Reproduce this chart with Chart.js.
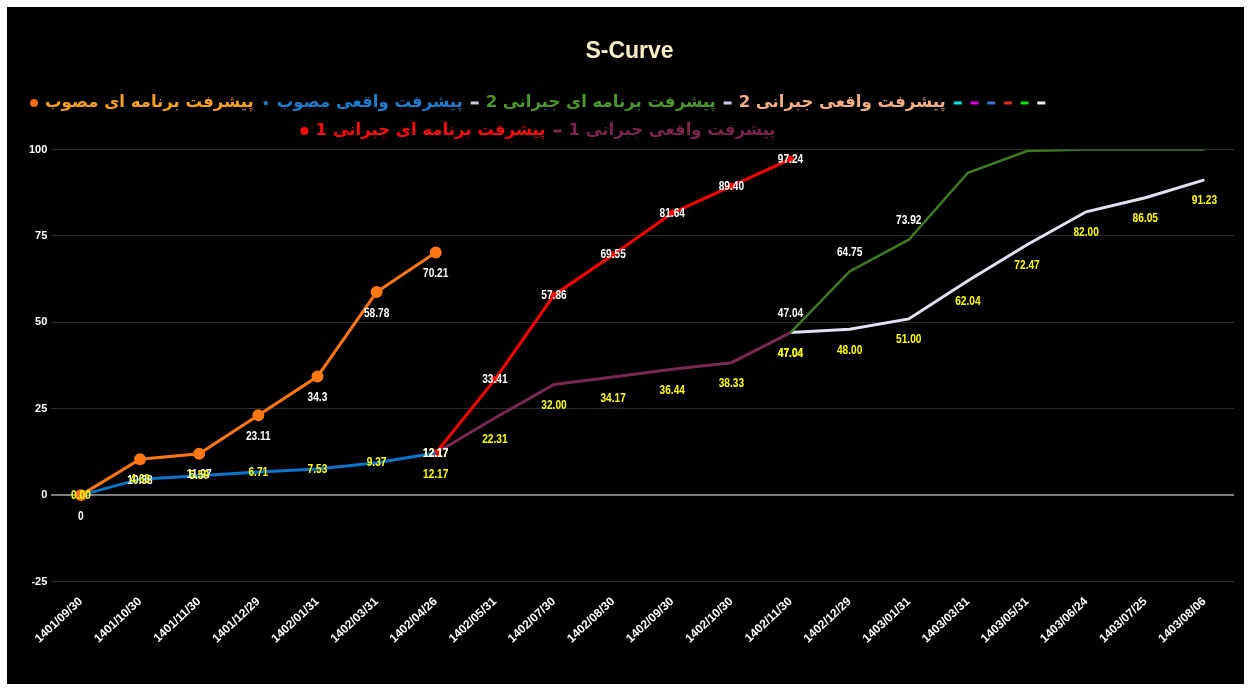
<!DOCTYPE html>
<html>
<head>
<meta charset="utf-8">
<title>S-Curve</title>
<script src="https://cdn.jsdelivr.net/npm/chart.js@4.4.2/dist/chart.umd.js"></script>
<style>
html, body {
    margin: 0;
    padding: 0;
    background: #fff;
}
#wrap {
    position: absolute;
    left: 7px;
    top: 7px;
    width: 1237px;
    height: 677px;
    background: #000;
}
</style>
</head>
<body>
<div id="wrap"><canvas id="chart"></canvas></div>
<script>
const dates = [
    "1401/09/30", "1401/10/30", "1401/11/30", "1401/12/29", "1402/01/31",
    "1402/03/31", "1402/04/26", "1402/05/31", "1402/07/30", "1402/08/30",
    "1402/09/30", "1402/10/30", "1402/11/30", "1402/12/29", "1403/01/31",
    "1403/03/31", "1403/05/31", "1403/06/24", "1403/07/25", "1403/08/06"
];
const _ = null;
// برنامه ای مصوب / واقعی مصوب
const plannedApproved = [0, 10.38, 11.97, 23.11, 34.3, 58.78, 70.21, _, _, _, _, _, _, _, _, _, _, _, _, _];
const actualApproved  = [0.00, 4.63, 5.59, 6.71, 7.53, 9.37, 12.17, _, _, _, _, _, _, _, _, _, _, _, _, _];
// جبرانی 1
const plannedComp1 = [_, _, _, _, _, _, 12.17, 33.41, 57.86, 69.55, 81.64, 89.40, 97.24, _, _, _, _, _, _, _];
const actualComp1  = [_, _, _, _, _, _, 12.17, 22.31, 32.00, 34.17, 36.44, 38.33, 47.04, _, _, _, _, _, _, _];
// جبرانی 2
const plannedComp2 = [_, _, _, _, _, _, _, _, _, _, _, _, 47.04, 64.75, 73.92, 93.3, 99.6, 100, 100, 100];
const actualComp2  = [_, _, _, _, _, _, _, _, _, _, _, _, 47.04, 48.00, 51.00, 62.04, 72.47, 82.00, 86.05, 91.23];

// legend rows, drawn left to right like the original
const legendRows = [
    [
        {text: "پیشرفت برنامه ای مصوب", color: "#f6a01e", marker: "circle", markerColor: "#f46a0e"},
        {text: "پیشرفت واقعی مصوب", color: "#1f7ccc", marker: "star", markerColor: "#2a7fd0"},
        {text: "پیشرفت برنامه ای جبرانی 2", color: "#4a972c", marker: "dash", markerColor: "#c9cbe0"},
        {text: "پیشرفت واقعی جبرانی 2", color: "#f2b082", marker: "dash", markerColor: "#c9cbe0"},
        {text: "", marker: "dash", markerColor: "#00e5e5"},
        {text: "", marker: "dash", markerColor: "#e000e0"},
        {text: "", marker: "dash", markerColor: "#3a78d0"},
        {text: "", marker: "dash", markerColor: "#e03020"},
        {text: "", marker: "dash", markerColor: "#10e010"},
        {text: "", marker: "dash", markerColor: "#f0f0f0"}
    ],
    [
        {text: "پیشرفت برنامه ای جبرانی 1", color: "#ff0a0a", marker: "circle", markerColor: "#ff0a0a"},
        {text: "پیشرفت واقعی جبرانی 1", color: "#7a2450", marker: "dash", markerColor: "#7a2450"}
    ]
];

const legendPlugin = {
    id: "sLegend",
    afterDraw(chart) {
        const ctx = chart.ctx;
        const centerX = 535;
        const rowY = [96, 124];
        ctx.save();
        ctx.font = "bold 16.5px 'DejaVu Sans'";
        ctx.direction = "rtl";
        ctx.textAlign = "left";
        ctx.textBaseline = "middle";
        legendRows.forEach((row, r) => {
            // measure whole row first so it can be centred
            const widths = row.map(it => it.text ? 15 + ctx.measureText(it.text).width + 8 : 16.7);
            let x = centerX - widths.reduce((a, b) => a + b, 0) / 2;
            const y = rowY[r];
            row.forEach((it, i) => {
                const mx = x + 4;
                ctx.fillStyle = it.markerColor;
                if (it.marker === "circle") {
                    ctx.beginPath();
                    ctx.arc(mx, y, 4, 0, Math.PI * 2);
                    ctx.fill();
                } else if (it.marker === "star") {
                    ctx.beginPath();
                    for (let k = 0; k < 10; k++) {
                        const a = -Math.PI / 2 + k * Math.PI / 5;
                        const rr = k % 2 ? 1.4 : 3.5;
                        ctx.lineTo(mx + rr * Math.cos(a), y + rr * Math.sin(a));
                    }
                    ctx.closePath();
                    ctx.fill();
                } else {
                    ctx.fillRect(mx - 4, y - 1.5, 8, 3);
                }
                if (it.text) {
                    ctx.fillStyle = it.color;
                    ctx.fillText(it.text, x + 15, y);
                }
                x += widths[i];
            });
        });
        ctx.restore();
    }
};

// value labels next to each point (narrow bold look)
const valueLabelPlugin = {
    id: "valueLabels",
    afterDatasetsDraw(chart) {
        const ctx = chart.ctx;
        chart.data.datasets.forEach((ds, i) => {
            const meta = chart.getDatasetMeta(i);
            let n = 0;
            meta.data.forEach((pt, j) => {
                const v = ds.data[j];
                if (v === null) return;
                n++;
                if (ds.labelMax && n > ds.labelMax) return;
                const text = ds.rawLabel ? String(v) : v.toFixed(2);
                ctx.save();
                ctx.font = "bold 13px 'Liberation Sans'";
                ctx.textAlign = "center";
                ctx.textBaseline = "middle";
                ctx.translate(pt.x, pt.y + ds.labelOffset);
                ctx.scale(0.78, 1);
                ctx.fillStyle = ds.labelColor;
                ctx.fillText(text, 0, 0);
                ctx.restore();
            });
        });
    }
};

const ctx = document.getElementById("chart").getContext("2d");
const chart = new Chart(ctx, {
    type: "line",
    data: {
        labels: dates,
        datasets: [
            {
                label: "پیشرفت برنامه ای مصوب",
                data: plannedApproved,
                borderColor: "#ff7714",
                backgroundColor: "#ff7714",
                borderWidth: 3,
                pointRadius: 4.5,
                labelColor: "#ffffff",
                labelOffset: 21,
                rawLabel: true
            },
            {
                label: "پیشرفت واقعی مصوب",
                data: actualApproved,
                borderColor: "#0b74c9",
                backgroundColor: "#0b74c9",
                borderWidth: 3,
                pointRadius: 0,
                labelColor: "#ffff00",
                labelOffset: 0
            },
            {
                label: "پیشرفت برنامه ای جبرانی 1",
                data: plannedComp1,
                borderColor: "#ff0000",
                backgroundColor: "#ff0000",
                borderWidth: 3,
                pointRadius: 2,
                labelColor: "#ffffff",
                labelOffset: 0
            },
            {
                label: "پیشرفت واقعی جبرانی 1",
                data: actualComp1,
                borderColor: "#7a2852",
                backgroundColor: "#7a2852",
                borderWidth: 3,
                pointRadius: 0,
                labelColor: "#ffff00",
                labelOffset: 21
            },
            {
                label: "پیشرفت برنامه ای جبرانی 2",
                data: plannedComp2,
                borderColor: "#3d7b1f",
                backgroundColor: "#3d7b1f",
                borderWidth: 2.5,
                pointRadius: 0,
                labelColor: "#ffffff",
                labelOffset: -19,
                labelMax: 3
            },
            {
                label: "پیشرفت واقعی جبرانی 2",
                data: actualComp2,
                borderColor: "#dfe1f4",
                backgroundColor: "#dfe1f4",
                borderWidth: 3,
                pointRadius: 0,
                labelColor: "#ffff00",
                labelOffset: 21
            }
        ]
    },
    options: {
        responsive: true,
        maintainAspectRatio: false,
        animation: false,
        layout: {
            padding: {left: 18, right: 10, top: 0, bottom: 25}
        },
        plugins: {
            legend: {display: false},
            tooltip: {enabled: false},
            title: {
                display: true,
                text: "S-Curve",
                color: "#fcefc6",
                font: {size: 23, weight: "bold", family: "'Liberation Sans'"},
                padding: {top: 31, bottom: 84}
            }
        },
        scales: {
            x: {
                offset: true,
                grid: {display: false, drawTicks: false},
                border: {display: false},
                ticks: {
                    color: "#ffffff",
                    font: {size: 12, weight: "bold", family: "'Liberation Sans'"},
                    maxRotation: 43,
                    minRotation: 43,
                    autoSkip: false,
                    padding: 13
                }
            },
            y: {
                min: -25,
                max: 100,
                border: {display: false},
                grid: {
                    color: c => c.tick.value === 0 ? "#7a7a7a" : "#2c2c2c",
                    lineWidth: c => c.tick.value === 0 ? 2 : 1,
                    drawTicks: false
                },
                ticks: {
                    stepSize: 25,
                    color: "#ffffff",
                    font: {size: 11, weight: "bold", family: "'Liberation Sans'"},
                    padding: 4
                }
            }
        }
    },
    plugins: [valueLabelPlugin, legendPlugin]
});
</script>
</body>
</html>
